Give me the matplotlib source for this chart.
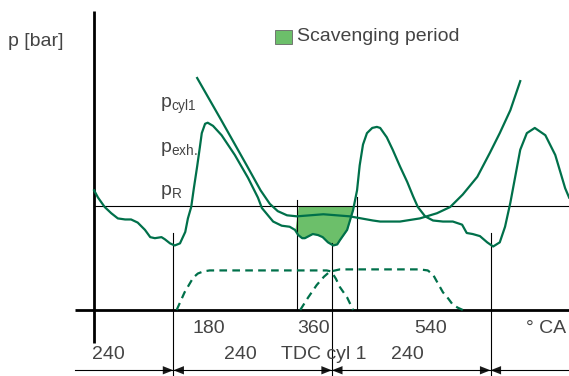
import numpy as np
import matplotlib
matplotlib.use('Agg')
import matplotlib.pyplot as plt
from matplotlib.patches import Polygon, Rectangle

plt.rcParams['font.family'] = ['Liberation Sans', 'DejaVu Sans']
plt.rcParams['mathtext.fontset'] = 'custom'
plt.rcParams['mathtext.rm'] = 'Liberation Sans'
plt.rcParams['mathtext.it'] = 'Liberation Sans'
plt.rcParams['lines.scale_dashes'] = False

GREEN = '#00704a'
FILL = '#6cbf6a'
TXT = '#444444'

# crank angle [deg CA] / pressure [bar, arbitrary scale]
exh_deg = [0, 6, 16, 26, 36, 47, 56, 66, 77, 85, 92, 102, 107, 115, 122, 130,
           138, 142, 147, 151, 156, 160, 163, 168, 172, 180, 193, 213, 233, 248,
           254, 271, 284, 296, 304, 309, 315, 319, 325, 331, 339, 346, 354, 362,
           368, 372, 383, 392, 398, 402, 407, 413, 421, 428, 433, 443, 452, 463,
           474, 483, 490, 501, 513, 528, 543, 557, 564, 573, 584, 595, 604, 614,
           622, 630, 645, 655, 667, 683, 698, 713, 719]
exh_p = [1.15, 1.08, 0.99, 0.93, 0.88, 0.87, 0.87, 0.84, 0.77, 0.70, 0.69, 0.70,
         0.68, 0.64, 0.62, 0.64, 0.75, 0.88, 0.99, 1.17, 1.38, 1.56, 1.70, 1.79,
         1.80, 1.77, 1.68, 1.49, 1.27, 1.08, 0.98, 0.85, 0.81, 0.80, 0.77, 0.72,
         0.69, 0.69, 0.71, 0.73, 0.72, 0.70, 0.65, 0.62, 0.63, 0.67, 0.77, 0.96,
         1.15, 1.39, 1.59, 1.70, 1.75, 1.76, 1.75, 1.66, 1.54, 1.38, 1.23, 1.09,
         0.99, 0.90, 0.86, 0.85, 0.85, 0.82, 0.74, 0.73, 0.71, 0.65, 0.61, 0.65,
         0.80, 1.03, 1.54, 1.70, 1.75, 1.68, 1.49, 1.17, 1.08]

cyl_deg = [156, 192, 231, 252, 266, 278, 292, 307, 347, 387, 422, 433, 463,
           493, 519, 539, 558, 580, 599, 614, 630, 645]
cyl_p = [2.23, 1.83, 1.39, 1.15, 1.02, 0.95, 0.91, 0.90, 0.92, 0.90, 0.86,
         0.85, 0.85, 0.88, 0.93, 0.99, 1.11, 1.28, 1.51, 1.70, 1.92, 2.20]

# valve lift curves (dashed)
liftA_deg = [125, 137, 150, 157, 165, 175, 352, 359, 366, 372, 383, 392]
liftA = [0.0, 0.17, 0.31, 0.35, 0.37, 0.38, 0.38, 0.37, 0.30, 0.22, 0.12, 0.0]
liftB_deg = [312, 324, 337, 348, 357, 365, 372, 493, 505, 513, 520, 528, 536,
             543, 551, 558]
liftB = [0.0, 0.12, 0.24, 0.32, 0.37, 0.38, 0.39, 0.39, 0.38, 0.34, 0.26, 0.17,
         0.11, 0.05, 0.02, 0.0]

p_R = 1.0
scav_deg = [307, 398]
scav_top = [1.06, 1.09]
tdc = [120, 360, 600]
tdc_top = [0.74, 0.64, 0.74]
tick_vals = [180, 360, 540]
tick_pos = [173, 332, 509]
span_labels = ['240', '240', 'TDC cyl 1', '240']
span_pos = [-3, 221, 347, 474]

fig = plt.figure(figsize=(5.69, 3.76), dpi=100)
ax = fig.add_axes([0, 0, 1, 1])
ax.set_xlim(-142.4, 718.8)
ax.set_ylim(-0.635, 2.98)
ax.axis('off')

# axes
ax.plot([0, 0], [-0.32, 2.87], color='k', lw=2.0, solid_capstyle='butt')
ax.plot([-29, 719], [0, 0], color='k', lw=2.0, solid_capstyle='butt')
ax.plot([-29, 719], [-0.58, -0.58], color='k', lw=0.8)
ax.plot([0, 719], [p_R, p_R], color='k', lw=0.8)

# scavenging period
ex_d = np.array(exh_deg, float)
ex_p = np.array(exh_p, float)
m = (ex_d >= scav_deg[0] - 10) & (ex_d <= scav_deg[1])
ax.fill_between(ex_d[m], ex_p[m], p_R, where=(ex_p[m] < p_R) & (ex_d[m] >= scav_deg[0] - 2),
                interpolate=True, color=FILL, lw=0, zorder=1)
for xv, top in zip(scav_deg, scav_top):
    ax.plot([xv, xv], [0, top], color='k', lw=0.8)

# TDC lines and dimension arrows
for xv, top in zip(tdc, tdc_top):
    ax.plot([xv, xv], [top, -0.65], color='k', lw=0.8)
    y0 = -0.58
    ax.add_patch(Polygon([[xv, y0], [xv - 16, y0 + 0.04], [xv - 16, y0 - 0.04]],
                         closed=True, color='#1a1a1a', lw=0))
    ax.add_patch(Polygon([[xv, y0], [xv + 16, y0 + 0.04], [xv + 16, y0 - 0.04]],
                         closed=True, color='#1a1a1a', lw=0))

ax.plot(exh_deg, exh_p, color=GREEN, lw=1.6, zorder=3)
ax.plot(cyl_deg, cyl_p, color=GREEN, lw=1.6, zorder=3)
ax.plot(liftA_deg, liftA, color=GREEN, lw=1.6, dashes=(5.5, 3.8))
ax.plot(liftB_deg, liftB, color=GREEN, lw=1.6, dashes=(5.5, 3.8))

fs = 14
ax.text(-130, 2.58, 'p [bar]', fontsize=fs, color=TXT, va='center')
ax.add_patch(Rectangle((274, 2.56), 25, 0.13, facecolor=FILL, edgecolor='#666666', lw=0.6))
ax.text(307, 2.625, 'Scavenging period', fontsize=fs, color=TXT, va='center')

ax.text(100, 1.96, r'p$_{\rm cyl1}$', fontsize=fs, color=TXT, va='center')
ax.text(100, 1.55, r'p$_{\rm exh.}$', fontsize=fs, color=TXT, va='center')
ax.text(100, 1.13, r'p$_{\rm R}$', fontsize=fs, color=TXT, va='center')

for v, xp in zip(tick_vals, tick_pos):
    ax.text(xp, -0.18, str(v), fontsize=fs, color=TXT, ha='center', va='center')
ax.text(715, -0.18, '° CA', fontsize=fs, color=TXT, ha='right', va='center')
for lab, xp in zip(span_labels, span_pos):
    ax.text(xp, -0.43, lab, fontsize=fs, color=TXT,
            ha='left' if xp < 0 else 'center', va='center')

fig.savefig('out.png', dpi=100)
